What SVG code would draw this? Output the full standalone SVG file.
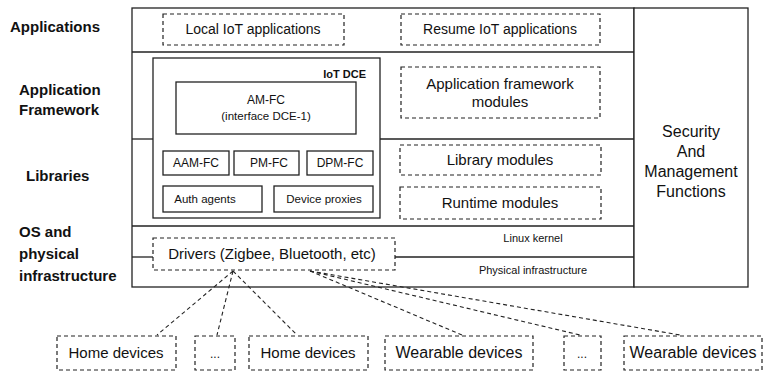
<svg xmlns="http://www.w3.org/2000/svg" width="765" height="373" viewBox="0 0 765 373">
  <style>
    .solid { fill: #fff; stroke: #222; stroke-width: 1.3; }
    .dash { fill: none; stroke: #222; stroke-width: 1.2; stroke-dasharray: 4 3; }
    .line { stroke: #222; stroke-width: 1.3; fill: none; }
    .conn { stroke: #222; stroke-width: 1.1; stroke-dasharray: 4 3; fill: none; }
    text { font-family: "Liberation Sans", Arial, sans-serif; fill: #111; }
    .layer { font-size: 15px; font-weight: bold; }
    .m { text-anchor: middle; }
  </style>
  <rect width="765" height="373" fill="#fff"/>

  <!-- layer labels -->
  <g id="layer-labels">
    <text class="layer" x="10" y="32">Applications</text>
    <text class="layer" x="19" y="95">Application</text>
    <text class="layer" x="19" y="115">Framework</text>
    <text class="layer" x="26" y="181">Libraries</text>
    <text class="layer" x="19" y="237">OS and</text>
    <text class="layer" x="19" y="259">physical</text>
    <text class="layer" x="19" y="281">infrastructure</text>
  </g>

  <!-- stack frame -->
  <g id="stack">
    <rect class="solid" x="132" y="8" width="502" height="279"/>
    <line class="line" x1="132" y1="52" x2="634" y2="52"/>
    <line class="line" x1="132" y1="139" x2="153" y2="139"/>
    <line class="line" x1="380" y1="139" x2="634" y2="139"/>
    <line class="line" x1="132" y1="226" x2="634" y2="226"/>
    <line class="line" x1="132" y1="257" x2="153" y2="257"/>
    <line class="line" x1="395" y1="257" x2="634" y2="257"/>
    <text class="m" x="533" y="242" font-size="11">Linux kernel</text>
    <text class="m" x="533" y="274" font-size="11">Physical infrastructure</text>
  </g>

  <g id="security">
    <rect class="solid" x="634" y="8" width="114" height="279"/>
    <text class="m" x="691" y="137" font-size="16">Security</text>
    <text class="m" x="691" y="157" font-size="16">And</text>
    <text class="m" x="691" y="177" font-size="16">Management</text>
    <text class="m" x="691" y="197" font-size="16">Functions</text>
  </g>

  <g id="local-apps">
    <rect class="dash" x="163" y="14" width="181" height="31"/>
    <text class="m" x="253" y="34" font-size="14">Local IoT applications</text>
  </g>
  <g id="resume-apps">
    <rect class="dash" x="401" y="14" width="199" height="31"/>
    <text class="m" x="500" y="34" font-size="14">Resume IoT applications</text>
  </g>

  <g id="iot-dce">
    <rect class="solid" x="153" y="58" width="227" height="160"/>
    <text x="366" y="78" font-size="11" font-weight="bold" text-anchor="end">IoT DCE</text>
  </g>
  <g id="am-fc">
    <rect class="solid" x="176" y="82" width="180" height="52"/>
    <text class="m" x="266" y="104" font-size="12">AM-FC</text>
    <text class="m" x="266" y="120" font-size="11.5">(interface DCE-1)</text>
  </g>
  <g id="aam-fc">
    <rect class="solid" x="163" y="151" width="66" height="24"/>
    <text class="m" x="196" y="167" font-size="12">AAM-FC</text>
  </g>
  <g id="pm-fc">
    <rect class="solid" x="234" y="151" width="65" height="24"/>
    <text class="m" x="269" y="167" font-size="12">PM-FC</text>
  </g>
  <g id="dpm-fc">
    <rect class="solid" x="307" y="151" width="66" height="24"/>
    <text class="m" x="340" y="167" font-size="12">DPM-FC</text>
  </g>
  <g id="auth-agents">
    <rect class="solid" x="163" y="186" width="99" height="26"/>
    <text class="m" x="205" y="203" font-size="11.5">Auth agents</text>
  </g>
  <g id="device-proxies">
    <rect class="solid" x="274" y="186" width="99" height="26"/>
    <text class="m" x="324" y="203" font-size="11.5">Device proxies</text>
  </g>

  <g id="app-framework-modules">
    <rect class="dash" x="401" y="67" width="199" height="51"/>
    <text class="m" x="500" y="89" font-size="15">Application framework</text>
    <text class="m" x="500" y="107" font-size="15">modules</text>
  </g>
  <g id="library-modules">
    <rect class="dash" x="400" y="145" width="201" height="30"/>
    <text class="m" x="500" y="165" font-size="15">Library modules</text>
  </g>
  <g id="runtime-modules">
    <rect class="dash" x="400" y="187" width="201" height="32"/>
    <text class="m" x="500" y="208" font-size="15">Runtime modules</text>
  </g>

  <g id="drivers">
    <rect class="dash" x="153" y="238" width="242" height="32"/>
    <text class="m" x="272" y="259" font-size="15">Drivers (Zigbee, Bluetooth, etc)</text>
  </g>

  <!-- links from drivers to devices -->
  <g id="connectors">
    <line class="conn" x1="233" y1="271" x2="157" y2="335"/>
    <line class="conn" x1="233" y1="271" x2="217" y2="335"/>
    <line class="conn" x1="233" y1="271" x2="297" y2="335"/>
    <line class="conn" x1="310" y1="271" x2="462" y2="335"/>
    <line class="conn" x1="310" y1="271" x2="580" y2="335"/>
    <line class="conn" x1="310" y1="271" x2="680" y2="335"/>
  </g>

  <g id="home-devices-1">
    <rect class="dash" x="57" y="336" width="119" height="34"/>
    <text class="m" x="116" y="358" font-size="15">Home devices</text>
  </g>
  <g id="home-devices-more">
    <rect class="dash" x="195" y="336" width="40" height="34"/>
    <text class="m" x="215" y="358" font-size="12">...</text>
  </g>
  <g id="home-devices-2">
    <rect class="dash" x="249" y="336" width="119" height="34"/>
    <text class="m" x="308" y="358" font-size="15">Home devices</text>
  </g>
  <g id="wearable-devices-1">
    <rect class="dash" x="385" y="336" width="148" height="34"/>
    <text class="m" x="459" y="358" font-size="16">Wearable devices</text>
  </g>
  <g id="wearable-devices-more">
    <rect class="dash" x="564" y="336" width="37" height="34"/>
    <text class="m" x="582" y="358" font-size="12">...</text>
  </g>
  <g id="wearable-devices-2">
    <rect class="dash" x="624" y="336" width="138" height="34"/>
    <text class="m" x="693" y="358" font-size="16">Wearable devices</text>
  </g>
</svg>
